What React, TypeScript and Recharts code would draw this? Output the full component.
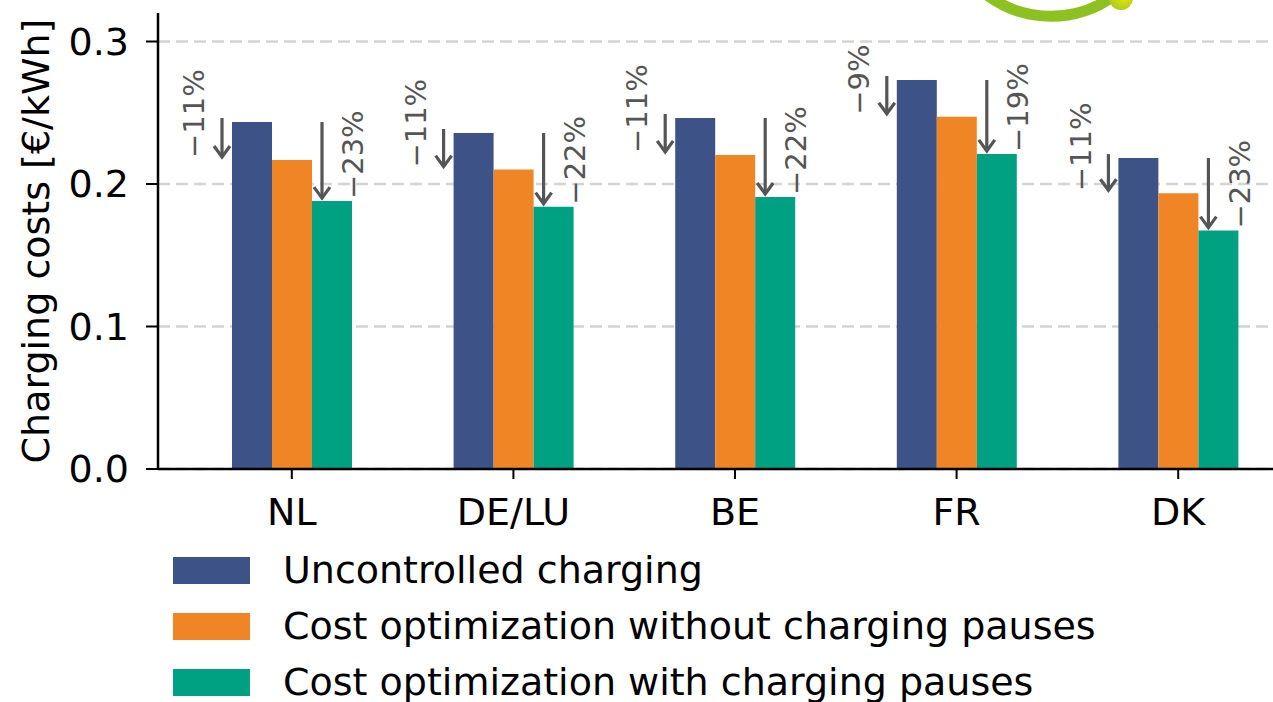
import React from 'react';
import {
    Bar,
    BarChart,
    CartesianGrid,
    LabelList,
    XAxis,
    YAxis
} from 'recharts';

const countries = ['NL', 'DE/LU', 'BE', 'FR', 'DK'];
const uncontrolled = [0.2435, 0.2358, 0.2463, 0.273, 0.2182];
const noPauses = [0.2168, 0.2101, 0.2204, 0.2472, 0.1935];
const withPauses = [0.188, 0.1841, 0.1909, 0.2211, 0.1673];
const dropNoPauses = ['−11%', '−11%', '−11%', '−9%', '−11%'];
const dropWithPauses = ['−23%', '−22%', '−22%', '−19%', '−23%'];
const yTicks = [0, 0.1, 0.2, 0.3];

const seriesNames = [
    'Uncontrolled charging',
    'Cost optimization without charging pauses',
    'Cost optimization with charging pauses'
];
const COLORS = ['#3d5387', '#f08526', '#00a183'];

const FONT = '"DejaVu Sans", Verdana, sans-serif';
const ANNOT = '#555555';
const BIG = 38;

const data = countries.map((c, i) => ({
    country: c,
    uncontrolled: uncontrolled[i],
    noPauses: noPauses[i],
    withPauses: withPauses[i]
}));

const Arrow = ({ x, y1, y2 }: { x: number; y1: number; y2: number }) => (
    <g stroke={ANNOT} strokeWidth={3.2} fill="none">
        <line x1={x} y1={y1} x2={x} y2={y2} />
        <polyline points={`${x - 8},${y2 - 11} ${x},${y2} ${x + 8},${y2 - 11}`} />
    </g>
);

const renderAnnotation = (props: any) => {
    const { x, y, width, height, value } = props;
    let idx = props.index;
    if (idx === undefined) idx = withPauses.indexOf(value);
    if (idx < 0 || idx === undefined) return null;
    const base = y + height;
    const k = height / withPauses[idx];
    const blueY = base - uncontrolled[idx] * k;
    const orangeY = base - noPauses[idx] * k;
    const blueLeft = x - 2 * width;
    const a1x = blueLeft - 10;
    const a2x = x + 10;
    const t1x = a1x - 28;
    const t1y = orangeY - 2;
    const t2x = x + width + 1;
    const t2y = y - 2;
    return (
        <g>
            <Arrow x={a1x} y1={blueY - 4} y2={orangeY - 3} />
            <Arrow x={a2x} y1={blueY} y2={y - 3} />
            <text x={t1x} y={t1y} dy="0.35em" transform={`rotate(-90, ${t1x}, ${t1y})`}
                fill={ANNOT} fontSize={29} fontFamily={FONT}>{dropNoPauses[idx]}</text>
            <text x={t2x} y={t2y} dy="0.35em" transform={`rotate(-90, ${t2x}, ${t2y})`}
                fill={ANNOT} fontSize={29} fontFamily={FONT}>{dropWithPauses[idx]}</text>
        </g>
    );
};

const YLabel = (props: any) => {
    const vb = props.viewBox || { x: 0, y: 13, width: 158, height: 456 };
    const cx = vb.x + 36;
    const cy = vb.y + vb.height / 2;
    return (
        <text x={cx} y={cy} dy="0.35em" textAnchor="middle" transform={`rotate(-90, ${cx}, ${cy})`}
            fontSize={BIG} fontFamily={FONT} fill="#000">Charging costs [€/kWh]</text>
    );
};

export default function App() {
    return (
        <div style={{ position: 'absolute', left: 0, top: 0, width: 1273, height: 702, overflow: 'hidden', background: '#fff' }}>
            <BarChart
                width={1320}
                height={702}
                data={data}
                margin={{ top: 13, right: 0, bottom: 173, left: 0 }}
                barGap={0}
                style={{ fontFamily: FONT }}
            >
                <CartesianGrid
                    vertical={false}
                    horizontalValues={yTicks}
                    stroke="#d4d4d4"
                    strokeWidth={2.5}
                    strokeDasharray="12 6"
                />
                <XAxis
                    dataKey="country"
                    height={60}
                    padding={{ left: 23, right: 31 }}
                    axisLine={{ stroke: '#000', strokeWidth: 2.5 }}
                    tickLine={{ stroke: '#000', strokeWidth: 2 }}
                    tickSize={10}
                    tickMargin={19}
                    tick={{ fill: '#000', fontSize: BIG, fontFamily: FONT }}
                />
                <YAxis
                    width={158}
                    domain={[0, 0.32]}
                    ticks={yTicks}
                    allowDataOverflow
                    tickFormatter={(v: number) => v.toFixed(1)}
                    axisLine={{ stroke: '#000', strokeWidth: 2.5 }}
                    tickLine={{ stroke: '#000', strokeWidth: 2 }}
                    tickSize={12}
                    tickMargin={17}
                    tick={{ fill: '#000', fontSize: BIG, fontFamily: FONT }}
                    label={<YLabel />}
                />
                <Bar dataKey="uncontrolled" name={seriesNames[0]} fill={COLORS[0]} barSize={40} isAnimationActive={false} />
                <Bar dataKey="noPauses" name={seriesNames[1]} fill={COLORS[1]} barSize={40} isAnimationActive={false} />
                <Bar dataKey="withPauses" name={seriesNames[2]} fill={COLORS[2]} barSize={40} isAnimationActive={false}>
                    <LabelList dataKey="withPauses" content={renderAnnotation} />
                </Bar>
            </BarChart>
            <svg width={1273} height={702} style={{ position: 'absolute', left: 0, top: 0, pointerEvents: 'none' }}>
                <defs>
                    <radialGradient id="ball" cx="0.6" cy="0.4" r="0.7">
                        <stop offset="0%" stopColor="#eee80a" />
                        <stop offset="100%" stopColor="#a5c81c" />
                    </radialGradient>
                </defs>
                <path d="M 987 -5 A 107 107 0 0 0 1115 -5" stroke="#8fc021" strokeWidth={11} fill="none" />
                <circle cx={1121} cy={-2} r={12} fill="url(#ball)" />
                {seriesNames.map((name, i) => (
                    <g key={name}>
                        <rect x={173} y={557 + i * 56} width={77} height={27} fill={COLORS[i]} />
                        <text x={283} y={583 + i * 56} fontSize={BIG} fontFamily={FONT} fill="#000">{name}</text>
                    </g>
                ))}
            </svg>
        </div>
    );
}
